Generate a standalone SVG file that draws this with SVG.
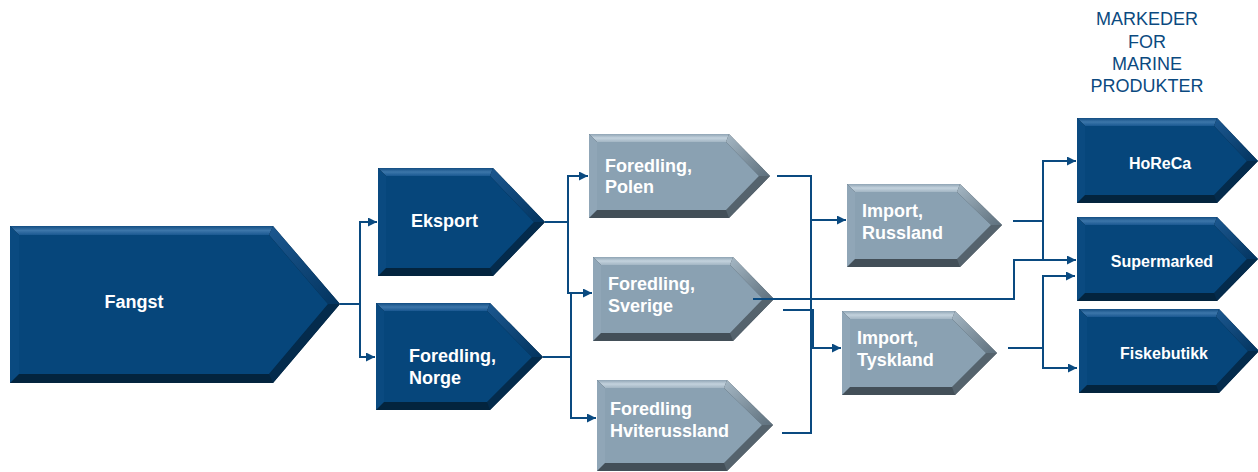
<svg xmlns="http://www.w3.org/2000/svg" width="1258" height="472" viewBox="0 0 1258 472">
<defs>
<marker id="arr" viewBox="0 0 10 10" refX="10" refY="5" markerWidth="9" markerHeight="9" markerUnits="userSpaceOnUse" orient="auto">
<path d="M0,0 L10,5 L0,10 z" fill="#0a4a80"/>
</marker>
<linearGradient id="dTop" x1="0" y1="0" x2="0" y2="1">
<stop offset="0" stop-color="#134d82"/><stop offset="0.5" stop-color="#3c76aa"/><stop offset="1" stop-color="#1a5891"/>
</linearGradient>
<linearGradient id="dUr" x1="0" y1="0" x2="1" y2="1">
<stop offset="0" stop-color="#1c5890"/><stop offset="1" stop-color="#03345f"/>
</linearGradient>
<linearGradient id="gTop" x1="0" y1="0" x2="0" y2="1">
<stop offset="0" stop-color="#8fa4b4"/><stop offset="0.5" stop-color="#c3d2dd"/><stop offset="1" stop-color="#a3b6c4"/>
</linearGradient>
<linearGradient id="gUr" x1="0" y1="0" x2="1" y2="1">
<stop offset="0" stop-color="#a6b8c5"/><stop offset="1" stop-color="#5d6f7c"/>
</linearGradient>
</defs>
<style>
.d .o{fill:#03243e}.d .t{fill:url(#dTop)}.d .l{fill:#0a4a80}.d .u{fill:url(#dUr)}.d .r{fill:#042b4c}.d .i{fill:#06467b}
.g .o{fill:#434f58}.g .t{fill:url(#gTop)}.g .l{fill:#90a6b7}.g .u{fill:url(#gUr)}.g .r{fill:#55636d}.g .i{fill:#8aa1b2}
.lbl{font-family:"Liberation Sans",Arial,sans-serif;font-weight:bold;font-size:18px;fill:#ffffff}
.mk{font-family:"Liberation Sans",Arial,sans-serif;font-weight:bold;font-size:16px;fill:#ffffff;text-anchor:middle}
.hd{font-family:"Liberation Sans",Arial,sans-serif;font-size:18px;fill:#0b4a80;text-anchor:middle}
.c{fill:none;stroke:#0a4a80;stroke-width:2}
</style>
<rect width="1258" height="472" fill="#ffffff"/>
<g id="header">
<text class="hd" x="1147" y="25">MARKEDER</text>
<text class="hd" x="1147" y="48">FOR</text>
<text class="hd" x="1147" y="70">MARINE</text>
<text class="hd" x="1147" y="92">PRODUKTER</text>
</g>
<g id="fangst" class="d">
<polygon class="o" points="10,226 273,226 340,304 273,383 10,383"/>
<polygon class="t" points="10,226 273,226 269,235 19,235"/>
<polygon class="l" points="10,226 19,235 19,374 10,383"/>
<polygon class="u" points="273,226 340,304 328,304 269,235"/>
<polygon class="r" points="340,304 273,383 269,374 328,304"/>
<polygon class="i" points="19,235 269,235 328,304 269,374 19,374"/>
<text class="lbl" x="134" y="308" text-anchor="middle">Fangst</text>
</g>
<g id="eksport" class="d">
<polygon class="o" points="378,168 493,168 545,222 493,276 378,276"/>
<polygon class="t" points="378,168 493,168 490,176 386,176"/>
<polygon class="l" points="378,168 386,176 386,268 378,276"/>
<polygon class="u" points="493,168 545,222 534,222 490,176"/>
<polygon class="r" points="545,222 493,276 490,268 534,222"/>
<polygon class="i" points="386,176 490,176 534,222 490,268 386,268"/>
<text class="lbl" x="411" y="227">Eksport</text>
</g>
<g id="foredling-norge" class="d">
<polygon class="o" points="376,303 490,303 543,357 490,410 376,410"/>
<polygon class="t" points="376,303 490,303 487,311 384,311"/>
<polygon class="l" points="376,303 384,311 384,402 376,410"/>
<polygon class="u" points="490,303 543,357 532,357 487,311"/>
<polygon class="r" points="543,357 490,410 487,402 532,357"/>
<polygon class="i" points="384,311 487,311 532,357 487,402 384,402"/>
<text class="lbl" x="409" y="362">Foredling,</text>
<text class="lbl" x="409" y="384">Norge</text>
</g>
<g id="foredling-polen" class="g">
<polygon class="o" points="589,134 729,134 770,176 729,218 589,218"/>
<polygon class="t" points="589,134 729,134 726,142 597,142"/>
<polygon class="l" points="589,134 597,142 597,210 589,218"/>
<polygon class="u" points="729,134 770,176 759,176 726,142"/>
<polygon class="r" points="770,176 729,218 726,210 759,176"/>
<polygon class="i" points="597,142 726,142 759,176 726,210 597,210"/>
<text class="lbl" x="605" y="172">Foredling,</text>
<text class="lbl" x="605" y="193">Polen</text>
</g>
<g id="foredling-sverige" class="g">
<polygon class="o" points="593,257 733,257 774,299 733,341 593,341"/>
<polygon class="t" points="593,257 733,257 730,265 601,265"/>
<polygon class="l" points="593,257 601,265 601,333 593,341"/>
<polygon class="u" points="733,257 774,299 763,299 730,265"/>
<polygon class="r" points="774,299 733,341 730,333 763,299"/>
<polygon class="i" points="601,265 730,265 763,299 730,333 601,333"/>
<text class="lbl" x="608" y="290">Foredling,</text>
<text class="lbl" x="608" y="312">Sverige</text>
</g>
<g id="foredling-hviterussland" class="g">
<polygon class="o" points="597,380 727,380 773,425 727,471 597,471"/>
<polygon class="t" points="597,380 727,380 724,388 605,388"/>
<polygon class="l" points="597,380 605,388 605,463 597,471"/>
<polygon class="u" points="727,380 773,425 762,425 724,388"/>
<polygon class="r" points="773,425 727,471 724,463 762,425"/>
<polygon class="i" points="605,388 724,388 762,425 724,463 605,463"/>
<text class="lbl" x="610" y="415">Foredling</text>
<text class="lbl" x="610" y="437">Hviterussland</text>
</g>
<g id="import-russland" class="g">
<polygon class="o" points="847,184 960,184 1002,225 960,267 847,267"/>
<polygon class="t" points="847,184 960,184 957,192 855,192"/>
<polygon class="l" points="847,184 855,192 855,259 847,267"/>
<polygon class="u" points="960,184 1002,225 991,225 957,192"/>
<polygon class="r" points="1002,225 960,267 957,259 991,225"/>
<polygon class="i" points="855,192 957,192 991,225 957,259 855,259"/>
<text class="lbl" x="862" y="217">Import,</text>
<text class="lbl" x="862" y="239">Russland</text>
</g>
<g id="import-tyskland" class="g">
<polygon class="o" points="842,311 955,311 997,353 955,395 842,395"/>
<polygon class="t" points="842,311 955,311 952,319 850,319"/>
<polygon class="l" points="842,311 850,319 850,387 842,395"/>
<polygon class="u" points="955,311 997,353 986,353 952,319"/>
<polygon class="r" points="997,353 955,395 952,387 986,353"/>
<polygon class="i" points="850,319 952,319 986,353 952,387 850,387"/>
<text class="lbl" x="857" y="344">Import,</text>
<text class="lbl" x="857" y="366">Tyskland</text>
</g>
<g id="horeca" class="d">
<polygon class="o" points="1077,118 1217,118 1258,161 1217,203 1077,203"/>
<polygon class="t" points="1077,118 1217,118 1214,126 1085,126"/>
<polygon class="l" points="1077,118 1085,126 1085,195 1077,203"/>
<polygon class="u" points="1217,118 1258,161 1247,161 1214,126"/>
<polygon class="r" points="1258,161 1217,203 1214,195 1247,161"/>
<polygon class="i" points="1085,126 1214,126 1247,161 1214,195 1085,195"/>
<text class="mk" x="1160" y="169">HoReCa</text>
</g>
<g id="supermarked" class="d">
<polygon class="o" points="1077,217 1217,217 1258,259 1217,301 1077,301"/>
<polygon class="t" points="1077,217 1217,217 1214,225 1085,225"/>
<polygon class="l" points="1077,217 1085,225 1085,293 1077,301"/>
<polygon class="u" points="1217,217 1258,259 1247,259 1214,225"/>
<polygon class="r" points="1258,259 1217,301 1214,293 1247,259"/>
<polygon class="i" points="1085,225 1214,225 1247,259 1214,293 1085,293"/>
<text class="mk" x="1162" y="267">Supermarked</text>
</g>
<g id="fiskebutikk" class="d">
<polygon class="o" points="1079,309 1219,309 1259,351 1219,393 1079,393"/>
<polygon class="t" points="1079,309 1219,309 1216,317 1087,317"/>
<polygon class="l" points="1079,309 1087,317 1087,385 1079,393"/>
<polygon class="u" points="1219,309 1259,351 1248,351 1216,317"/>
<polygon class="r" points="1259,351 1219,393 1216,385 1248,351"/>
<polygon class="i" points="1087,317 1216,317 1248,351 1216,385 1087,385"/>
<text class="mk" x="1164" y="359">Fiskebutikk</text>
</g>
<g id="connectors">
<path class="c" d="M340,304 H360 V222 H377" marker-end="url(#arr)"/>
<path class="c" d="M360,304 V357 H375" marker-end="url(#arr)"/>
<path class="c" d="M545,222 H568 V176 H588" marker-end="url(#arr)"/>
<path class="c" d="M568,222 V293 H592" marker-end="url(#arr)"/>
<path class="c" d="M543,357 H571 V418 H596" marker-end="url(#arr)"/>
<path class="c" d="M571,357 V293"/>
<path class="c" d="M777,176 H811 V433 H782"/>
<path class="c" d="M811,220 H846" marker-end="url(#arr)"/>
<path class="c" d="M783,310 H813 V348 H841" marker-end="url(#arr)"/>
<path class="c" d="M753,299 H1014 V260 H1076" marker-end="url(#arr)"/>
<path class="c" d="M1013,221 H1043 V161 H1076" marker-end="url(#arr)"/>
<path class="c" d="M1043,221 V260"/>
<path class="c" d="M1008,348 H1043 V276 H1075" marker-end="url(#arr)"/>
<path class="c" d="M1043,348 V368 H1077" marker-end="url(#arr)"/>
</g>
</svg>
